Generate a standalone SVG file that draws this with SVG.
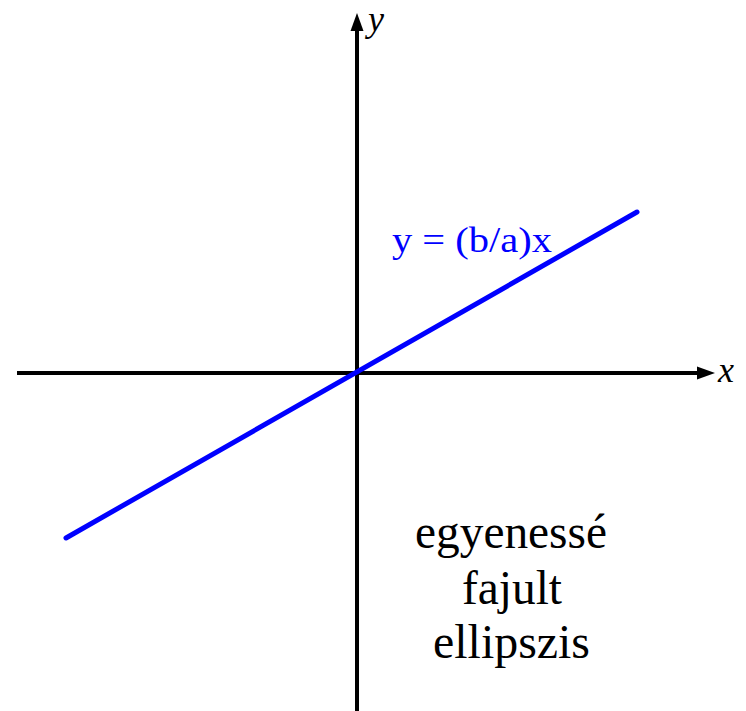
<svg xmlns="http://www.w3.org/2000/svg" width="746" height="711" viewBox="0 0 746 711">
<style>
.axis{stroke:#000;stroke-width:4;fill:none}
.lbl{font-family:"Liberation Serif","Times New Roman",serif;font-style:italic;font-size:36px;fill:#000}
.txt{font-family:"Liberation Serif","Times New Roman",serif;font-size:48px;fill:#000;text-anchor:middle}
</style>
<rect width="746" height="711" fill="#fff"/>
<g id="connectors">
<line class="axis" x1="357" y1="711" x2="357" y2="28"/>
<polygon points="357,13 350.5,31 363.5,31" fill="#000"/>
<line class="axis" x1="17" y1="373" x2="700" y2="373"/>
<polygon points="715,373 697,366.5 697,379.5" fill="#000"/>
<line x1="66" y1="538" x2="637" y2="212" stroke="#0000ff" stroke-width="5" stroke-linecap="round"/>
</g>
<g id="axis-labels">
<text class="lbl" x="368" y="31" font-size="34">y</text>
<text class="lbl" x="718" y="382">x</text>
</g>
<g id="line-label">
<text x="392" y="252" font-family="Liberation Serif,Times New Roman,serif" font-size="36" fill="#0000ff" textLength="160" lengthAdjust="spacingAndGlyphs">y = (b/a)x</text>
</g>
<g id="caption">
<text class="txt" x="511" y="548" textLength="192" lengthAdjust="spacingAndGlyphs">egyenessé</text>
<text class="txt" x="512" y="604" textLength="100" lengthAdjust="spacingAndGlyphs">fajult</text>
<text class="txt" x="511.5" y="658" textLength="157" lengthAdjust="spacingAndGlyphs">ellipszis</text>
</g>
</svg>
